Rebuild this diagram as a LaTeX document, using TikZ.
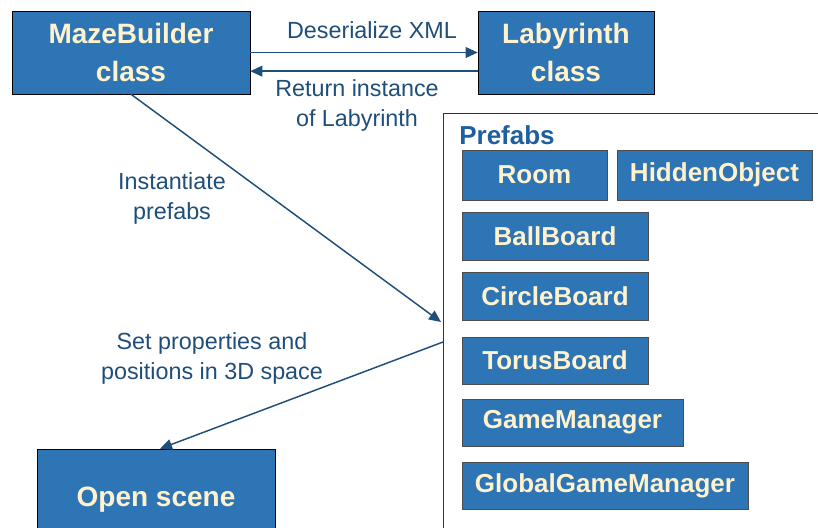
\documentclass[tikz,border=0pt]{standalone}
\usepackage{fontspec}
\setmainfont{Liberation Sans}
\usetikzlibrary{arrows.meta}
\usepackage{xcolor}
\definecolor{boxblue}{HTML}{2E75B6}
\definecolor{boxtext}{HTML}{FFF2CC}
\definecolor{linkblue}{HTML}{1F4E79}
\definecolor{titleblue}{HTML}{1F5F9F}
\tikzset{
	classbox/.style={draw=black, fill=boxblue, text=boxtext, align=center, inner sep=0pt,
		font=\bfseries\fontsize{21}{28.5}\selectfont},
	prefabbox/.style={draw=black!70, fill=boxblue, text=boxtext, inner sep=0pt,
		font=\bfseries\fontsize{19.5}{24}\selectfont},
	linklabel/.style={text=linkblue, align=center, font=\fontsize{17.5}{22.5}\selectfont},
	link/.style={draw=linkblue, line width=1.1pt, -{Triangle[length=9pt,width=8pt]}}
}

\begin{document}
\begin{tikzpicture}[x=0.75pt, y=-0.75pt]
		\useasboundingbox (0, 0) rectangle (818, 528);

		\node[classbox, minimum width=178.5pt, minimum height=62.25pt] (maze) at (131, 52.5) {MazeBuilder\\class};
		\node[classbox, minimum width=132pt, minimum height=62.25pt] (laby) at (566, 52.5) {Labyrinth\\class};
		\node[classbox, minimum width=178.5pt, minimum height=76.5pt] (scene) at (156, 500) {Open scene};

		\node[linklabel] (deser) at (372, 30) {Deserialize XML};
		\node[linklabel] (retlbl) at (357, 105) {Return instance\\of Labyrinth};
		\node[linklabel] (instlbl) at (172, 198) {Instantiate\\prefabs};
		\node[linklabel] (setlbl) at (212, 358) {Set properties and\\positions in 3D space};

		% prefabs frame
		\draw[black!80] (818, 113) -- (443, 113) -- (443, 540);
		\node[text=titleblue, font=\bfseries\fontsize{19.5}{24}\selectfont] (ptitle) at (507, 135) {Prefabs};
		\node[prefabbox, minimum width=108.75pt, minimum height=37.5pt] (room) at (534.5, 175) {Room};
		\node[prefabbox, minimum width=146.25pt, minimum height=37.5pt] (hidden) at (714.5, 175) {HiddenObject};
		\node[prefabbox, minimum width=139.5pt, minimum height=36pt] (ball) at (555, 236) {BallBoard};
		\node[prefabbox, minimum width=139.5pt, minimum height=36pt] (circle) at (555, 296.5) {CircleBoard};
		\node[prefabbox, minimum width=139.5pt, minimum height=35.25pt] (torus) at (555, 360.5) {TorusBoard};
		\node[prefabbox, minimum width=165.75pt, minimum height=35.25pt] (gman) at (572.5, 422.5) {GameManager};
		\node[prefabbox, minimum width=214.5pt, minimum height=35.25pt] (globman) at (605, 485.5) {GlobalGameManager};

		\coordinate (intoprefabs) at (441, 322);
		\coordinate (outofprefabs) at (443, 342);

		\draw[link] (maze.east) -- (laby.west);
		\draw[link] ([yshift=-14pt]laby.west) -- ([yshift=-14pt]maze.east);
		\draw[link] (maze.south) -- (intoprefabs);
		\draw[link] (outofprefabs) -- ([xshift=3pt]scene.north);
	\end{tikzpicture}
\end{document}
